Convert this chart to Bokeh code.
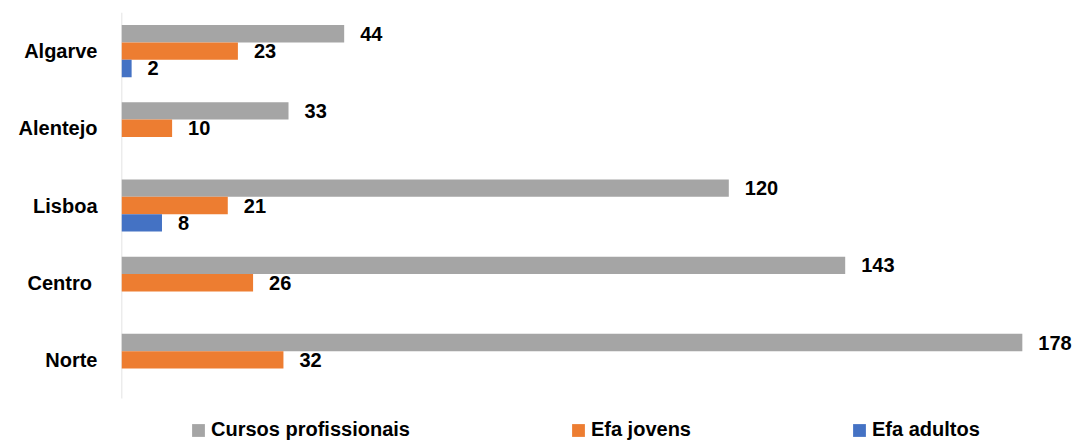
from bokeh.plotting import figure
from bokeh.models import ColumnDataSource, Range1d, FixedTicker, Legend, LegendItem
from bokeh.core.properties import value
from bokeh.embed import file_html
from bokeh.resources import INLINE

# Data (top to bottom in the chart)
regions = ["Algarve", "Alentejo", "Lisboa", "Centro", "Norte"]
cursos_profissionais = [44, 33, 120, 143, 178]
efa_jovens = [23, 10, 21, 26, 32]
efa_adultos = [2, 0, 8, 0, 0]

series_names = ["Cursos profissionais", "Efa jovens", "Efa adultos"]
series_values = [cursos_profissionais, efa_jovens, efa_adultos]
colors = ["#a5a5a5", "#ed7d31", "#4472c4"]
offsets = [0.225, 0.0, -0.225]

FONT = "Liberation Sans"

n = len(regions)
ypos = [n - 1 - i for i in range(n)]  # Algarve at top

p = figure(
    width=1077, height=442,
    y_range=Range1d(4.5 - 430 / 77.2, 4.5),
    x_range=Range1d(0, 188.9),
    x_axis_location=None,
    output_backend="svg", toolbar_location=None,
    min_border_left=121, min_border_right=0, min_border_top=12, min_border_bottom=0,
)
p.outline_line_color = None
p.xgrid.visible = False
p.ygrid.visible = False

yax = p.yaxis[0]
yax.ticker = FixedTicker(ticks=ypos)
yax.axis_line_color = None
yax.major_tick_line_color = None
yax.minor_tick_line_color = None
yax.major_tick_out = 0
yax.major_tick_in = 0
yax.major_label_standoff = 24
yax.major_label_text_font = FONT
yax.major_label_text_font_style = "bold"
yax.major_label_text_font_size = "20px"
yax.major_label_text_color = "#000000"
yax.major_label_overrides = {
    yv: (g + "\u00a0" if g == "Centro" else g) for yv, g in zip(ypos, regions)
}

# vertical category axis line (only across the category band)
p.segment(x0=[0], y0=[-0.5], x1=[0], y1=[n - 0.5], line_color="#d9d9d9", line_width=1.5)

renderers = []
for name, vals, col, off in zip(series_names, series_values, colors, offsets):
    yy = [y + off for y in ypos]
    src = ColumnDataSource(dict(y=yy, v=vals))
    r = p.hbar(y="y", right="v", left=0, height=0.225, source=src,
               fill_color=col, line_color=None)
    renderers.append(r)
    lab_y = [y for y, x in zip(yy, vals) if x != 0]
    lab_val = [x for x in vals if x != 0]
    lsrc = ColumnDataSource(dict(y=lab_y, v=lab_val, t=[str(x) for x in lab_val]))
    p.text(x="v", y="y", text="t", source=lsrc,
           x_offset=16, y_offset=0, text_baseline="middle", text_align="left",
           text_font=value(FONT), text_font_style="bold", text_font_size="20px",
           text_color="#000000")

legend = Legend(
    items=[LegendItem(label=nm, renderers=[r]) for nm, r in zip(series_names, renderers)],
    orientation="horizontal", location=(69, 1),
    padding=0, margin=0, spacing=160,
    glyph_width=16, glyph_height=16, label_standoff=5,
    label_text_font=FONT, label_text_font_style="bold", label_text_font_size="20px",
    label_text_color="#000000",
    border_line_color=None, background_fill_alpha=0,
)
p.add_layout(legend, "center")

open("out.html", "w").write(file_html(p, INLINE))
